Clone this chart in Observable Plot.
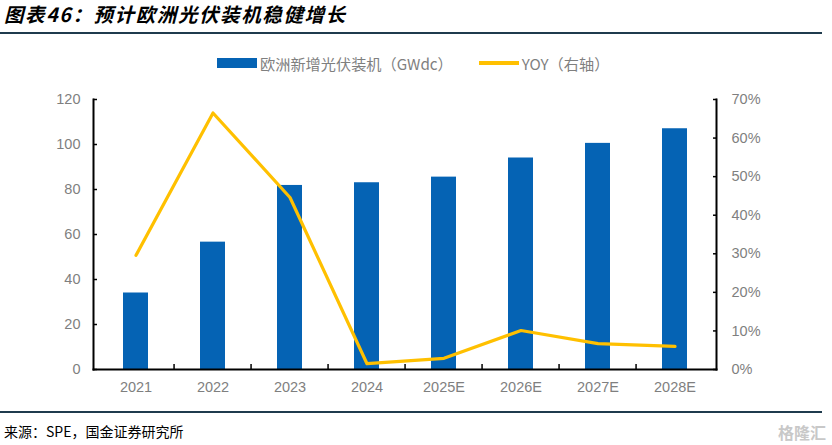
<!DOCTYPE html>
<html>
<head>
<meta charset="utf-8">
<script src="https://cdn.jsdelivr.net/npm/d3@7"></script>
<script src="https://cdn.jsdelivr.net/npm/@observablehq/plot@0.6"></script>
<style>
  html, body { margin: 0; padding: 0; background: #fff; }
  #wrap { position: relative; width: 832px; height: 445px; overflow: hidden; font-family: "Liberation Sans", Arial, sans-serif; }
  #title { position: absolute; left: 4px; top: -1px; font-family: "Noto Sans CJK SC", sans-serif; font-size: 19.5px; font-weight: bold; font-style: italic; color: #000; letter-spacing: 1.6px; }
  .hr { position: absolute; left: 0; width: 822px; height: 1.5px; background: #1f3b4d; }
  #legend { position: absolute; top: 52px; left: 217px; font-size: 15.2px; color: #7f7f7f; display: flex; align-items: center; font-family: "Noto Sans CJK SC", sans-serif; }
  #legend .sw { display: inline-block; }
  #caption { position: absolute; left: 4px; top: 421px; font-size: 14px; color: #000; font-family: "Noto Sans CJK SC", sans-serif; }
  #wm { position: absolute; right: 6px; top: 420px; font-size: 16px; color: #c8c8c8; font-family: "Noto Sans CJK SC", sans-serif; font-weight: bold; }
  #plot { position: absolute; left: 0; top: 0; }
</style>
</head>
<body>
<div id="wrap">
  <div id="plot"></div>
  <div id="title">图表46：预计欧洲光伏装机稳健增长</div>
  <div class="hr" style="top:32px"></div>
  <div id="legend">
    <span class="sw" style="width:40px;height:10px;background:#0563b4;margin-right:3px"></span>
    <span>欧洲新增光伏装机（GWdc）</span>
    <span class="sw" style="width:40px;height:4px;background:#ffc000;margin-left:26px;margin-right:3px"></span>
    <span>YOY（右轴）</span>
  </div>
  <div class="hr" style="top:411px"></div>
  <div id="caption">来源：SPE，国金证券研究所</div>
  <div id="wm">格隆汇</div>
</div>
<script>
const years = ["2021", "2022", "2023", "2024", "2025E", "2026E", "2027E", "2028E"];
const installs = [34, 56.6, 81.8, 83, 85.5, 94, 100.5, 107];
const yoy = [0.296, 0.665, 0.446, 0.015, 0.029, 0.101, 0.067, 0.06];
const leftTicks = [0, 20, 40, 60, 80, 100, 120];
const rightTicks = [0, 0.1, 0.2, 0.3, 0.4, 0.5, 0.6, 0.7];

const yMax = 120, rMax = 0.7;
const toLeft = v => v * yMax / rMax;

const bars = years.map((year, i) => ({year, value: installs[i]}));
const line = years.map((year, i) => ({year, value: toLeft(yoy[i])}));

const W = 832, H = 445;
const mL = 93, mR = W - 716, mT = 99, mB = H - 369;
const step = (W - mL - mR) / years.length;

const chart = Plot.plot({
  width: W,
  height: H,
  marginLeft: mL,
  marginRight: mR,
  marginTop: mT,
  marginBottom: mB,
  style: {fontFamily: "'Liberation Sans', Arial, sans-serif", fontSize: "14.5px", color: "#7f7f7f", background: "transparent"},
  x: {domain: years, paddingInner: 0.68, paddingOuter: 0.34, label: null},
  y: {domain: [0, yMax], label: null},
  marks: [
    Plot.barY(bars, {x: "year", y: "value", fill: "#0563b4"}),
    Plot.line(line, {x: "year", y: "value", stroke: "#ffc000", strokeWidth: 3.2, strokeLinejoin: "round"}),
    Plot.axisY({anchor: "left", ticks: leftTicks, tickSize: 0, tickPadding: 13, label: null, fill: "#7f7f7f"}),
    Plot.axisY({anchor: "left", ticks: leftTicks, tickSize: -4, fill: "none", stroke: "#000", strokeWidth: 1.5, label: null}),
    Plot.axisY({anchor: "right", ticks: rightTicks.map(toLeft), tickFormat: d => Math.round(d * rMax / yMax * 100) + "%", tickSize: 0, tickPadding: 15, label: null, fill: "#7f7f7f"}),
    Plot.axisY({anchor: "right", ticks: rightTicks.map(toLeft), tickSize: -4, fill: "none", stroke: "#000", strokeWidth: 1.5, label: null}),
    Plot.axisX({anchor: "bottom", ticks: years, tickSize: 0, tickPadding: 12, label: null, fill: "#7f7f7f"}),
    Plot.axisX({anchor: "bottom", ticks: years.slice(1), tickSize: -5, dx: -step / 2, fill: "none", stroke: "#000", strokeWidth: 1.5, label: null}),
    Plot.frame({anchor: "left", stroke: "#000", strokeWidth: 2}),
    Plot.frame({anchor: "right", stroke: "#000", strokeWidth: 2}),
    Plot.frame({anchor: "bottom", stroke: "#000", strokeWidth: 2})
  ]
});
document.getElementById("plot").appendChild(chart);
</script>
</body>
</html>
